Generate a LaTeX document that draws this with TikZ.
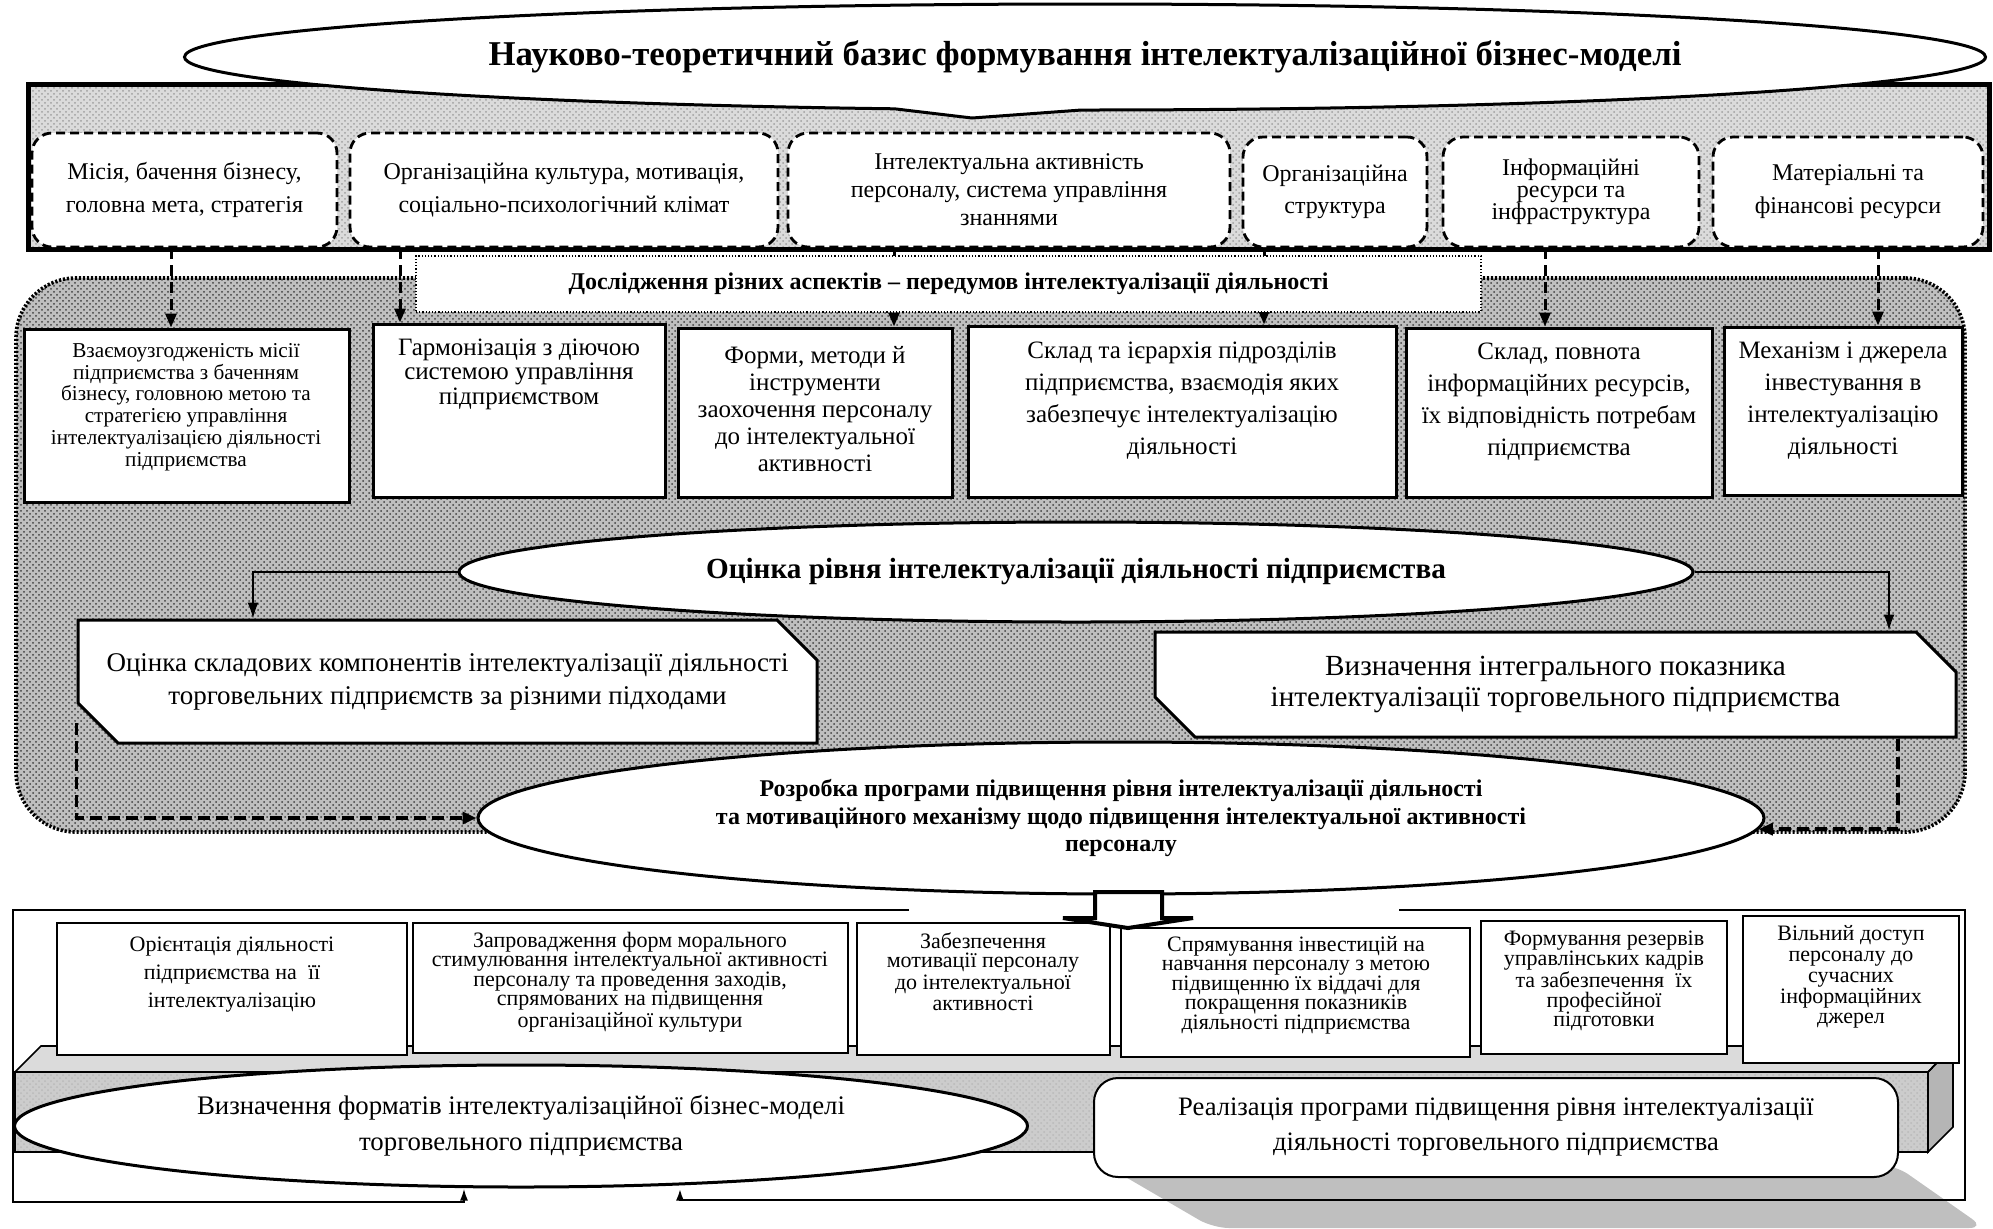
\documentclass[tikz,border=0pt]{standalone}
\usepackage{fontspec}
\setmainfont{Liberation Serif}
\usetikzlibrary{shapes.geometric,shapes.callouts,shapes.misc,arrows.meta,patterns,calc}
\newcommand\mybox[7]{\node[#6,minimum width={(#4-#2)*0.5pt},minimum height={(#5-#3)*0.5pt}] (#1) at ({(#2+#4)/2},{(#3+#5)/2}) {#7};}
\tikzset{
  fs/.style 2 args={font=\fontsize{#1}{#2}\selectfont},
  fsb/.style 2 args={font=\bfseries\fontsize{#1}{#2}\selectfont},
  txt/.style={align=center, inner sep=0pt},
  topdash/.style={draw, line width=1.4pt, dash pattern=on 4.5pt off 2.5pt, rounded corners=10pt, fill=white, inner sep=0pt, align=center},
  midbox/.style={draw, line width=1.5pt, fill=white, inner sep=0pt},
  botbox/.style={draw, line width=1pt, fill=white, inner sep=0pt},
  hatchst/.style={draw, line width=2.5pt, preaction={fill=gray!28}, pattern=crosshatch dots, pattern color=gray!75},
  regionst/.style={draw, line width=1.8pt, dash pattern=on 1.1pt off 0.9pt, rounded corners=30pt, preaction={fill=gray!50}, pattern=crosshatch dots, pattern color=black!75},
  dotbox/.style={draw, line width=0.6pt, densely dotted, fill=white, inner sep=0pt},
  cham/.style={chamfered rectangle, chamfered rectangle corners={north east,south west}, chamfered rectangle xsep=10pt, chamfered rectangle ysep=10pt, draw, line width=1.5pt, fill=white, inner sep=0pt, align=center},
  dasharr/.style={line width=1.5pt, dash pattern=on 5.5pt off 3pt, -{Triangle[length=7pt,width=5.5pt]}},
  bigdash/.style={line width=1.9pt, dash pattern=on 6pt off 3pt, -{Triangle[length=7pt,width=6pt]}},
  thinarr/.style={line width=0.8pt, -{Latex[length=8pt,width=5.5pt]}},
  framearr/.style={line width=1pt, -{Latex[length=6pt,width=4pt]}},
  ell/.style={ellipse, draw, line width=1.5pt, fill=white, inner sep=0pt, align=center}
}
\begin{document}
\begin{tikzpicture}[x=0.5pt,y=-0.5pt]
\useasboundingbox (0,0) rectangle (1993,1228);

% ---------- middle region ----------
\mybox{region}{16}{278}{1965}{832}{regionst}{}

% ---------- top block ----------
\mybox{topbox}{28}{84}{1989}{249}{hatchst}{}
\node[ellipse callout, draw, line width=1.5pt, fill=white, inner sep=0pt,
  minimum width={1801*0.5pt}, minimum height={106*0.5pt},
  callout absolute pointer={(972,118)}, callout pointer arc=12, fsb={17.4}{20}] (title) at (1085,57)
  {Науково-теоретичний базис формування інтелектуалізаційної бізнес-моделі};

\mybox{t1}{32}{133}{337}{247}{topdash,fs={12}{16.5}}{Місія, бачення бізнесу,\\ головна мета, стратегія}
\mybox{t2}{350}{133}{778}{247}{topdash,fs={12}{16.5}}{Організаційна культура, мотивація,\\ соціально-психологічний клімат}
\mybox{t3}{788}{133}{1230}{247}{topdash,fs={12}{14}}{Інтелектуальна активність\\ персоналу, система управління\\ знаннями}
\mybox{t4}{1243}{137}{1427}{247}{topdash,fs={12}{16}}{Організаційна\\ структура}
\mybox{t5}{1443}{137}{1699}{247}{topdash,fs={12}{11}}{Інформаційні\\ ресурси та\\ інфраструктура}
\mybox{t6}{1713}{137}{1983}{247}{topdash,fs={12}{16.5}}{Матеріальні та\\ фінансові ресурси}

% ---------- middle boxes ----------
\mybox{mA}{24}{329}{349}{502}{midbox}{}
\mybox{mB}{373}{324}{665}{497}{midbox}{}
\mybox{mC}{678}{328}{952}{497}{midbox}{}
\mybox{mD}{968}{326}{1396}{497}{midbox}{}
\mybox{mE}{1406}{328}{1712}{497}{midbox}{}
\mybox{mF}{1724}{327}{1962}{495}{midbox}{}
\node[txt,fs={10.6}{10.9}] (tA) at (186,407) {Взаємоузгодженість місії\\ підприємства з баченням\\ бізнесу, головною метою та\\ стратегією управління\\ інтелектуалізацією діяльності\\ підприємства};
\node[txt,fs={12.5}{12.2}] (tB) at (519,374) {Гармонізація з діючою\\ системою управління\\ підприємством};
\node[txt,fs={12.5}{13.5}] (tC) at (815,409) {Форми, методи й\\ інструменти\\ заохочення персоналу\\ до інтелектуальної\\ активності};
\node[txt,fs={12.5}{16}] (tD) at (1182,401) {Склад та ієрархія підрозділів\\ підприємства, взаємодія яких\\ забезпечує інтелектуалізацію\\ діяльності};
\node[txt,fs={12.5}{16}] (tE) at (1559,402) {Склад, повнота\\ інформаційних ресурсів,\\ їх відповідність потребам\\ підприємства};
\node[txt,fs={12.5}{16}] (tF) at (1843,401) {Механізм і джерела\\ інвестування в\\ інтелектуалізацію\\ діяльності};

% dashed arrows from the top boxes
\draw[dasharr] (171,0 |- t1.south) -- (171,0 |- mA.north);
\draw[dasharr] (400,0 |- t2.south) -- (400,0 |- mB.north);
\draw[dasharr] (894,0 |- t3.south) -- (894,0 |- mC.north);
\draw[dasharr] (1264,0 |- t4.south) -- (1264,0 |- mD.north);
\draw[dasharr] (1545,0 |- t5.south) -- (1545,0 |- mE.north);
\draw[dasharr] (1878,0 |- t6.south) -- (1878,0 |- mF.north);

\mybox{dosl}{416}{256}{1481}{312}{dotbox,fsb={12}{14}}{Дослідження різних аспектів – передумов інтелектуалізації діяльності}

% ---------- evaluation ----------
\node[ell, minimum width={1234*0.5pt}, minimum height={100*0.5pt}, fsb={14.6}{17}] (ocinka) at (1076,572) {Оцінка рівня інтелектуалізації діяльності підприємства};
\node[cham, minimum width={739*0.5pt}, minimum height={123*0.5pt}, fs={13.5}{16.5}] (ocsklad) at (447.5,681.5) {Оцінка складових компонентів інтелектуалізації діяльності\\ торговельних підприємств за різними підходами};
\node[cham, minimum width={801*0.5pt}, minimum height={105*0.5pt}, fs={14.6}{15.5}] (ocvyz) at (1555.5,684.5) {Визначення інтегрального показника\\ інтелектуалізації торговельного підприємства};
\draw[thinarr] (ocinka.west) -| (253,0 |- ocsklad.north);
\draw[thinarr] (ocinka.east) -| (1889,0 |- ocvyz.north);

\node[ell, minimum width={1286*0.5pt}, minimum height={152*0.5pt}, fsb={12}{13.6}] (rozrobka) at (1121,818) {Розробка програми підвищення рівня інтелектуалізації діяльності\\ та мотиваційного механізму щодо підвищення інтелектуальної активності\\ персоналу};
\draw[bigdash] (ocsklad.west |- 0,723) |- (rozrobka.west);
\draw[bigdash] (1898,0 |- ocvyz.south) |- (rozrobka.-1);

% ---------- bottom block ----------
\fill[gray!28] (15,1072) -- (41,1046) -- (1953,1046) -- (1928,1072) -- cycle;
\draw[line width=0.8pt, preaction={fill=gray!40}, pattern=crosshatch dots, pattern color=gray!55] (15,1072) rectangle (1928,1152);
\draw[line width=0.8pt, fill=gray!58] (1928,1072) -- (1953,1046) -- (1953,1127) -- (1928,1152) -- cycle;
\draw[line width=0.8pt] (15,1072) -- (41,1046) -- (1953,1046) -- (1928,1072);

\mybox{b1}{57}{923}{407}{1055}{botbox}{}
\mybox{b2}{413}{923}{848}{1053}{botbox}{}
\mybox{b3}{857}{923}{1110}{1055}{botbox}{}
\mybox{b4}{1121}{928}{1470}{1057}{botbox}{}
\mybox{b5}{1481}{921}{1727}{1054}{botbox}{}
\mybox{b6}{1743}{916}{1959}{1063}{botbox}{}
\node[txt,fs={11}{14}] (tb1) at (232,975) {Орієнтація діяльності\\ підприємства на~ її\\ інтелектуалізацію};
\node[txt,fs={11}{9.75}] (tb2) at (630,982) {Запровадження форм морального\\ стимулювання інтелектуальної активності\\ персоналу та проведення заходів,\\ спрямованих на підвищення\\ організаційної культури};
\node[txt,fs={11}{9.5}] (tb3) at (983,972) {Забезпечення\\ мотивації персоналу\\ до інтелектуальної\\ активності};
\node[txt,fs={11}{9.75}] (tb4) at (1296,985) {Спрямування інвестицій на\\ навчання персоналу з метою\\ підвищенню їх віддачі для\\ покращення показників\\ діяльності підприємства};
\node[txt,fs={11}{9.75}] (tb5) at (1604,981) {Формування резервів\\ управлінських кадрів\\ та забезпечення~ їх\\ професійної\\ підготовки};
\node[txt,fs={11}{10.4}] (tb6) at (1851,977) {Вільний доступ\\ персоналу до\\ сучасних\\ інформаційних\\ джерел};

% hollow block arrow
\draw[line width=2pt, fill=white, line join=miter] (1095,892) -- (1162,892) -- (1162,918) -- (1193,918) -- (1128,928) -- (1063,918) -- (1095,918) -- cycle;

% shadow and realisation box
\fill[gray!50, rounded corners=8pt] (1105,1165) -- (1895,1165) -- (1985,1228) -- (1213,1228) -- cycle;
\mybox{realiz}{1094}{1078}{1898}{1177}{draw, line width=1pt, fill=white, rounded corners=12pt, align=center, inner sep=0pt, fs={13.3}{17.5}}{Реалізація програми підвищення рівня інтелектуалізації\\ діяльності торговельного підприємства}

\node[ell, minimum width={1013*0.5pt}, minimum height={122*0.5pt}, fs={13.4}{18}] (formaty) at (521,1126) {Визначення форматів інтелектуалізаційної бізнес-моделі\\ торговельного підприємства};

% frame with arrows into the bottom ellipse
\draw[framearr] (909,910) -- (13,910) -- (13,1202) -| (464,0 |- formaty.south);
\draw[framearr, line width=1.3pt] (1399,910) -- (1965,910) -- (1965,1200) -| (680,0 |- formaty.south);
\end{tikzpicture}
\end{document}
